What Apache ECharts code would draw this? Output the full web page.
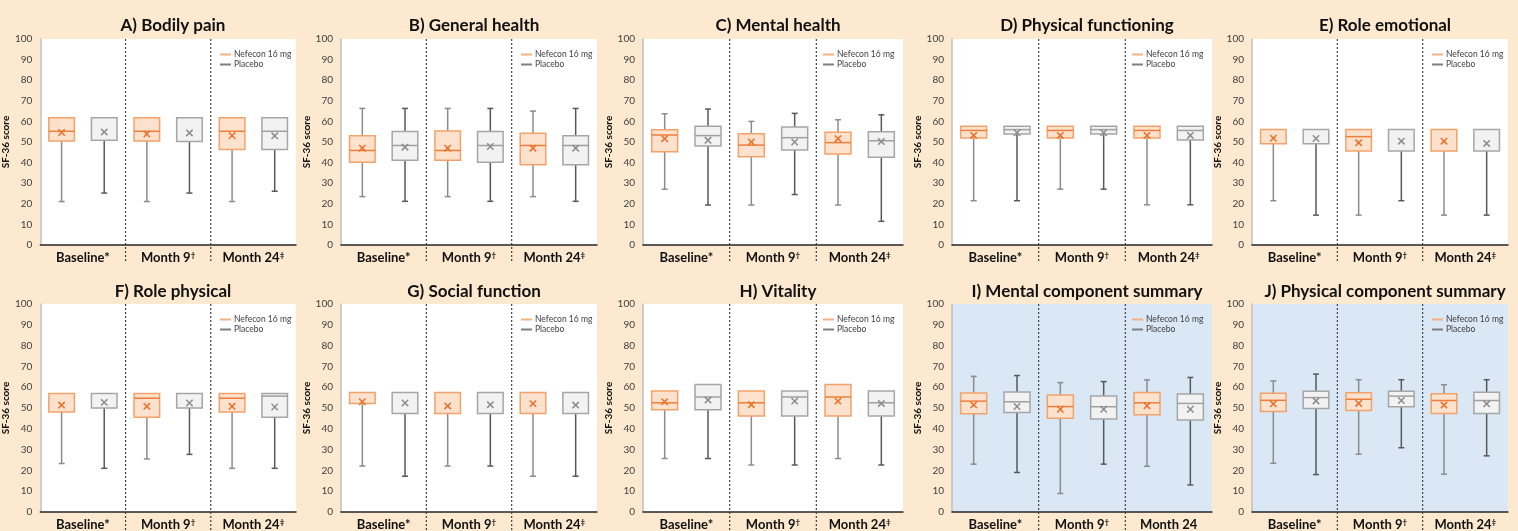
<!DOCTYPE html>
<html>
<head>
<meta charset="utf-8">
<script src="https://cdn.jsdelivr.net/npm/echarts@6/dist/echarts.min.js"></script>
<style>
  html, body { margin: 0; padding: 0; background: #FCE9D0; }
  #chart { width: 1518px; height: 531px; }
</style>
</head>
<body>
<div id="chart"></div>
<script>
// SF-36 norm-based scores by visit. Each row: [min, Q1, median, Q3, max, mean]
const timepoints = ['Baseline*', 'Month 9\u2020', 'Month 24\u2021'];
const timepointsMcs = ['Baseline*', 'Month 9\u2020', 'Month 24'];
const armNames = ['Nefecon 16 mg', 'Placebo'];

const panelTitles = [
  'A) Bodily pain', 'B) General health', 'C) Mental health', 'D) Physical functioning', 'E) Role emotional',
  'F) Role physical', 'G) Social function', 'H) Vitality', 'I) Mental component summary', 'J) Physical component summary'
];

const bodilyPainNef = [[21.1, 50.5, 55.2, 61.8, 61.8, 54.6], [21.1, 50.5, 55.2, 61.8, 61.8, 53.9], [21.1, 46.4, 55.2, 61.8, 61.8, 53.1]];
const bodilyPainPla = [[25.2, 50.8, 61.8, 61.8, 61.8, 54.9], [25.2, 50.3, 61.8, 61.8, 61.8, 54.4], [26.1, 46.4, 55.2, 61.8, 61.8, 53.0]];

const generalHealthNef = [[23.5, 40.2, 45.9, 53.0, 66.3, 47.0], [23.5, 41.2, 45.9, 55.3, 66.3, 47.0], [23.5, 38.9, 48.3, 54.3, 65.0, 47.0]];
const generalHealthPla = [[21.2, 41.2, 48.3, 55.1, 66.3, 47.5], [21.2, 40.2, 48.3, 55.1, 66.3, 47.8], [21.2, 38.9, 48.3, 53.0, 66.3, 47.0]];

const mentalHealthNef = [[27.1, 45.3, 53.4, 56.0, 63.7, 51.6], [19.4, 42.9, 48.5, 54.0, 60.0, 50.0], [19.4, 44.2, 49.7, 54.7, 60.8, 51.6]];
const mentalHealthPla = [[19.4, 48.1, 53.1, 57.7, 66.0, 50.8], [24.5, 46.1, 52.1, 57.3, 63.9, 50.0], [11.5, 42.6, 50.6, 55.0, 63.2, 50.2]];

const physFunctionNef = [[21.5, 51.9, 55.6, 57.6, 57.6, 53.2], [27.1, 51.9, 55.6, 57.6, 57.6, 53.2], [19.5, 51.9, 55.6, 57.6, 57.6, 53.2]];
const physFunctionPla = [[21.5, 53.9, 56.0, 57.6, 57.6, 54.5], [27.1, 53.9, 56.0, 57.6, 57.6, 54.5], [19.5, 51.0, 55.6, 57.6, 57.6, 53.2]];

const roleEmotionalNef = [[21.5, 49.1, 56.1, 56.1, 56.1, 51.8], [14.5, 45.6, 52.6, 56.1, 56.1, 49.6], [14.5, 45.6, 56.1, 56.1, 56.1, 50.4]];
const roleEmotionalPla = [[14.5, 49.1, 56.1, 56.1, 56.1, 51.7], [21.5, 45.6, 56.1, 56.1, 56.1, 50.4], [14.5, 45.6, 56.1, 56.1, 56.1, 49.3]];

const rolePhysicalNef = [[23.3, 48.1, 57.0, 57.0, 57.0, 51.4], [25.5, 45.6, 54.7, 57.0, 57.0, 50.8], [21.0, 48.1, 54.7, 57.0, 57.0, 50.8]];
const rolePhysicalPla = [[21.0, 50.0, 57.0, 57.0, 57.0, 52.7], [27.7, 50.0, 57.0, 57.0, 57.0, 52.4], [21.0, 45.6, 55.7, 57.0, 57.0, 50.5]];

const socialFunctionNef = [[22.1, 52.2, 57.5, 57.5, 57.5, 53.0], [22.1, 47.3, 57.5, 57.5, 57.5, 51.0], [17.2, 47.3, 57.5, 57.5, 57.5, 52.1]];
const socialFunctionPla = [[17.2, 47.3, 57.5, 57.5, 57.5, 52.4], [22.1, 47.3, 57.5, 57.5, 57.5, 51.6], [17.2, 47.3, 57.5, 57.5, 57.5, 51.4]];

const vitalityNef = [[25.7, 49.2, 52.5, 58.2, 58.2, 53.0], [22.6, 46.2, 52.5, 58.2, 58.2, 51.6], [25.7, 46.2, 55.3, 61.3, 61.3, 53.3]];
const vitalityPla = [[25.7, 49.2, 55.3, 61.3, 61.3, 53.8], [22.6, 46.2, 55.3, 58.2, 58.2, 53.3], [22.6, 46.2, 52.5, 58.2, 58.2, 52.2]];

const mcsNef = [[23.0, 47.2, 53.3, 57.2, 65.2, 51.5], [8.9, 45.1, 50.7, 56.2, 62.2, 49.4], [22.0, 46.7, 52.5, 57.4, 63.5, 51.1]];
const mcsPla = [[19.0, 47.8, 53.0, 57.7, 65.6, 50.7], [23.0, 44.7, 50.6, 55.8, 62.7, 49.4], [13.0, 44.2, 52.2, 56.7, 64.7, 49.4]];

const pcsNef = [[23.4, 48.3, 53.7, 57.1, 63.0, 52.0], [27.8, 48.8, 54.2, 57.3, 63.6, 52.2], [18.2, 47.4, 53.6, 56.8, 61.2, 51.4]];
const pcsPla = [[18.0, 49.8, 55.0, 58.1, 66.3, 53.4], [30.9, 50.6, 55.7, 58.1, 63.6, 53.6], [27.0, 47.4, 53.6, 57.6, 63.6, 52.0]];

const panelData = [
  [bodilyPainNef, bodilyPainPla], [generalHealthNef, generalHealthPla], [mentalHealthNef, mentalHealthPla],
  [physFunctionNef, physFunctionPla], [roleEmotionalNef, roleEmotionalPla],
  [rolePhysicalNef, rolePhysicalPla], [socialFunctionNef, socialFunctionPla], [vitalityNef, vitalityPla],
  [mcsNef, mcsPla], [pcsNef, pcsPla]
];

// Layout of the 2 x 5 grid of panels
const colLeft = [40, 341, 643, 952, 1252];
const colWidth = [256, 256, 260, 260, 256];
const rowTop = [39, 304];
const rowHeight = [206, 209];
const titleTop = [12, 278];

const FONT = 'Lato, "Open Sans", sans-serif';

const armStyle = [
  { fill: '#FCE1CD', border: '#F2A26B', median: '#EE7F3A', mean: '#E8702A', whisker: '#8C8C8C', legend: '#F4B183', offset: -1 },
  { fill: '#F2F2F2', border: '#A6A6A6', median: '#A0A0A0', mean: '#8C8C8C', whisker: '#595959', legend: '#7F7F7F', offset: 1 }
];

function makeRenderItem(arm) {
  const st = armStyle[arm];
  return function (params, api) {
    const cat = api.value(0);
    const vMin = api.value(1), q1 = api.value(2), med = api.value(3), q3 = api.value(4), vMax = api.value(5), mean = api.value(6);
    const band = api.size([1, 0])[0];
    const center = api.coord([cat, 0])[0];
    const cx = center + st.offset * band / 4;
    const bw = band * 0.3;
    const y = v => api.coord([cat, v])[1];
    const children = [];

    // dotted separator on the left edge of every visit group but the first
    if (arm === 0 && cat > 0) {
      const sx = center - band / 2;
      children.push({
        type: 'line',
        shape: { x1: sx, y1: y(100), x2: sx, y2: y(0) + 18 },
        style: { stroke: '#404040', lineWidth: 1.2, lineDash: [2, 2] }
      });
    }
    const cap = 3;
    if (vMin < q1) {
      children.push({ type: 'line', shape: { x1: cx, y1: y(q1), x2: cx, y2: y(vMin) }, style: { stroke: st.whisker, lineWidth: 1.5 } });
      children.push({ type: 'line', shape: { x1: cx - cap, y1: y(vMin), x2: cx + cap, y2: y(vMin) }, style: { stroke: st.whisker, lineWidth: 1.5 } });
    }
    if (vMax > q3) {
      children.push({ type: 'line', shape: { x1: cx, y1: y(q3), x2: cx, y2: y(vMax) }, style: { stroke: st.whisker, lineWidth: 1.5 } });
      children.push({ type: 'line', shape: { x1: cx - cap, y1: y(vMax), x2: cx + cap, y2: y(vMax) }, style: { stroke: st.whisker, lineWidth: 1.5 } });
    }
    children.push({
      type: 'rect',
      shape: { x: cx - bw / 2, y: y(q3), width: bw, height: y(q1) - y(q3) },
      style: { fill: st.fill, stroke: st.border, lineWidth: 1.5 }
    });
    if (med > q1 && med < q3) {
      children.push({ type: 'line', shape: { x1: cx - bw / 2, y1: y(med), x2: cx + bw / 2, y2: y(med) }, style: { stroke: st.median, lineWidth: 1.5 } });
    }
    const m = 3.2, my = y(mean);
    children.push({ type: 'line', shape: { x1: cx - m, y1: my - m, x2: cx + m, y2: my + m }, style: { stroke: st.mean, lineWidth: 1.5 } });
    children.push({ type: 'line', shape: { x1: cx - m, y1: my + m, x2: cx + m, y2: my - m }, style: { stroke: st.mean, lineWidth: 1.5 } });
    return { type: 'group', children };
  };
}

function supFormatter(v) {
  const last = v.slice(-1);
  if (last === '\u2020' || last === '\u2021') return v.slice(0, -1) + '{sup|' + last + '}';
  return v;
}

const grid = [], xAxis = [], yAxis = [], series = [], title = [], legend = [];

panelTitles.forEach((name, i) => {
  const row = Math.floor(i / 5), col = i % 5;
  const left = colLeft[col], top = rowTop[row], width = colWidth[col], height = rowHeight[row];
  const summary = i >= 8;
  grid.push({
    left, top, width, height,
    show: true, borderWidth: 0,
    backgroundColor: summary ? '#DAE7F4' : '#FFFFFF'
  });
  title.push({
    text: name, left: left + width / 2, top: titleTop[row], textAlign: 'center',
    textStyle: { fontFamily: FONT, fontSize: 17, fontWeight: 'bold', color: '#111' }
  });
  legend.push({
    left: left + 175, top: top + 6, orient: 'vertical', itemGap: 1,
    itemWidth: 11, itemHeight: 2, icon: 'rect',
    textStyle: { fontFamily: FONT, fontSize: 8.5, color: '#404040', padding: [0, 0, 0, -2] },
    data: armNames.map((n, a) => ({ name: n, itemStyle: { color: armStyle[a].legend } }))
  });
  xAxis.push({
    type: 'category', gridIndex: i,
    data: i === 8 ? timepointsMcs : timepoints,
    axisLine: { lineStyle: { color: '#262626', width: 1.5 } },
    axisTick: { show: false },
    splitLine: { show: false },
    axisLabel: {
      interval: 0, hideOverlap: false,
      margin: 6, color: '#111', fontFamily: FONT, fontSize: 13, fontWeight: 'bold',
      formatter: supFormatter,
      rich: { sup: { fontFamily: FONT, fontSize: 8, fontWeight: 'bold', color: '#111', verticalAlign: 'top', lineHeight: 10 } }
    }
  });
  yAxis.push({
    type: 'value', gridIndex: i, min: 0, max: 100, interval: 10,
    name: 'SF-36 score', nameLocation: 'middle', nameGap: 25,
    nameTextStyle: { fontFamily: FONT, fontSize: 10, fontWeight: 'bold', color: '#111' },
    axisLine: { show: true, lineStyle: { color: '#BFBFBF', width: 1.5 } },
    axisTick: { show: false },
    splitLine: { show: false },
    axisLabel: { fontFamily: FONT, fontSize: 10, color: '#404040', margin: 8 }
  });
  panelData[i].forEach((armData, a) => {
    series.push({
      type: 'custom', name: armNames[a], xAxisIndex: i, yAxisIndex: i,
      itemStyle: { color: armStyle[a].legend },
      renderItem: makeRenderItem(a),
      encode: { x: 0, y: [1, 2, 3, 4, 5, 6] },
      data: armData.map((r, k) => [k].concat(r)),
      clip: false, silent: true
    });
  });
});

const chart = echarts.init(document.getElementById('chart'), null, { renderer: 'canvas' });
chart.setOption({
  backgroundColor: '#FCE9D0',
  animation: false,
  textStyle: { fontFamily: FONT },
  title, legend, grid, xAxis, yAxis, series
});
</script>
</body>
</html>
